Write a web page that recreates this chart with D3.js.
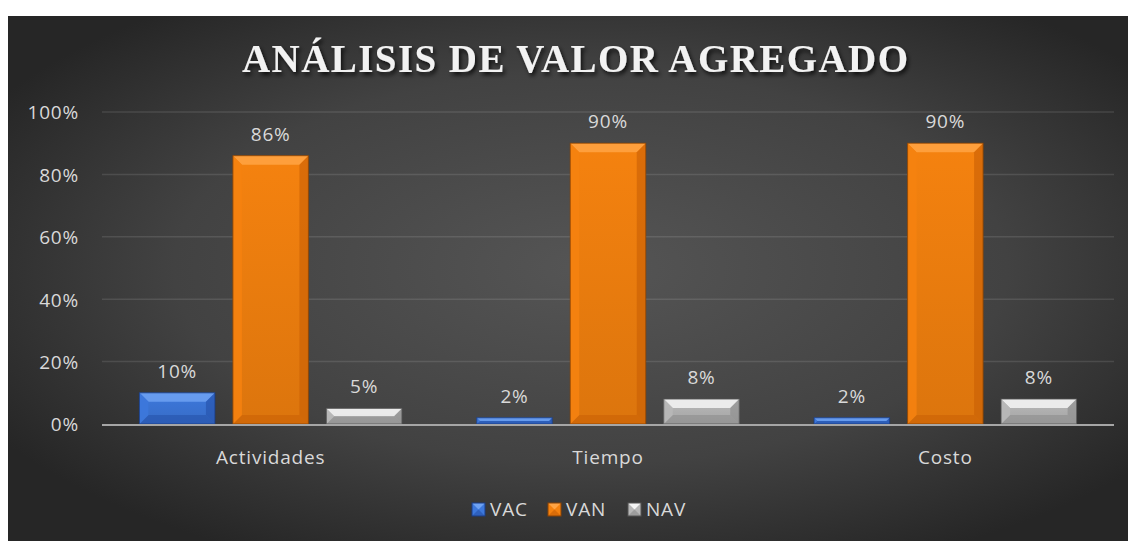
<!DOCTYPE html>
<html><head><meta charset="utf-8">
<script src="https://cdn.jsdelivr.net/npm/d3@7"></script>
<style>html,body{margin:0;padding:0;background:#fff;}svg{display:block;}</style>
</head><body>
<svg id="c" width="1132" height="541"></svg>
<script>
const categories = ["Actividades", "Tiempo", "Costo"];
const seriesNames = ["VAC", "VAN", "NAV"];
const VAC = [10, 2, 2];
const VAN = [86, 90, 90];
const NAV = [5, 8, 8];
const yTicks = [0, 20, 40, 60, 80, 100];
const title = "ANÁLISIS DE VALOR AGREGADO";

(function(){
const seriesValues = [VAC, VAN, NAV];
const palette = [
  {base:"#3d78dc", light:"#6fa2f2", dark:"#2450a8", edge:"#1a3d85"},
  {base:"#f5820f", light:"#ffa444", dark:"#c85f05", edge:"#8a4204"},
  {base:"#b8b8b8", light:"#f4f4f4", dark:"#8a8a8a", edge:"#555555"}
];

const svg = d3.select("#c");
const defs = svg.append("defs");
const bg = defs.append("radialGradient").attr("id","bg").attr("cx","52%").attr("cy","48%").attr("r","62%");
bg.append("stop").attr("offset","0%").attr("stop-color","#555555");
bg.append("stop").attr("offset","60%").attr("stop-color","#424242");
bg.append("stop").attr("offset","100%").attr("stop-color","#262626");
palette.forEach((p,i)=>{
  const g = defs.append("linearGradient").attr("id","bar"+i).attr("x1",0).attr("x2",0).attr("y1",0).attr("y2",1);
  g.append("stop").attr("offset","0%").attr("stop-color",p.base);
  g.append("stop").attr("offset","100%").attr("stop-color",d3.color(p.base).darker(0.3));
});
const sh = defs.append("filter").attr("id","tsh").attr("x","-5%").attr("y","-30%").attr("width","110%").attr("height","160%");
sh.append("feDropShadow").attr("dx",2).attr("dy",3).attr("stdDeviation",2).attr("flood-color","#000").attr("flood-opacity",0.75);

svg.append("rect").attr("x",8).attr("y",16).attr("width",1120).attr("height",525).attr("fill","url(#bg)");

const pLeft = 102, pRight = 1114, pTop = 112, pBottom = 424;
const x = d3.scaleBand().domain(categories).range([pLeft,pRight]);
const y = d3.scaleLinear().domain([0,100]).range([pBottom,pTop]);
const barW = 75.5, step = 93.5;
const xs = d3.scaleLinear().domain([0,2]).range([-step, step]);

svg.append("g").selectAll("line").data(yTicks.filter(t=>t>0)).join("line")
  .attr("x1",pLeft).attr("x2",pRight).attr("y1",d=>y(d)).attr("y2",d=>y(d))
  .attr("stroke","#ffffff").attr("stroke-opacity",0.11).attr("stroke-width",1.5);

const font = "'Open Sans'";
const fs = "19px", ls = "0.8px";
const yAxis = d3.axisLeft(y).tickValues(yTicks).tickFormat(d=>d+"%").tickSize(0).tickPadding(0);
const ya = svg.append("g").attr("transform",`translate(79,0)`).call(yAxis);
ya.select(".domain").remove();
ya.selectAll("text").attr("fill","#d9d9d9").style("font-family",font).style("font-size",fs).style("letter-spacing",ls).attr("dy","0.36em");

categories.forEach((c,ci)=>{
  seriesValues.forEach((vals,si)=>{
    const v = vals[ci];
    const cx = x(c) + x.bandwidth()/2 + xs(si);
    const x0 = cx - barW/2, x1 = cx + barW/2;
    const y0 = y(v), y1 = y(0);
    const h = y1 - y0;
    const b = Math.min(9, h/2);
    const p = palette[si];
    const g = svg.append("g");
    g.append("rect").attr("x",x0).attr("y",y0).attr("width",barW).attr("height",h).attr("fill","url(#bar"+si+")");
    g.append("polygon").attr("points",`${x0},${y0} ${x1},${y0} ${x1-b},${y0+b} ${x0+b},${y0+b}`).attr("fill",p.light).attr("opacity",0.85);
    g.append("polygon").attr("points",`${x0},${y1} ${x1},${y1} ${x1-b},${y1-b} ${x0+b},${y1-b}`).attr("fill",p.dark).attr("opacity",0.55);
    g.append("polygon").attr("points",`${x0},${y0} ${x0+b},${y0+b} ${x0+b},${y1-b} ${x0},${y1}`).attr("fill",p.base).attr("opacity",0.9);
    g.append("polygon").attr("points",`${x1},${y0} ${x1-b},${y0+b} ${x1-b},${y1-b} ${x1},${y1}`).attr("fill",p.dark).attr("opacity",0.6);
    g.append("rect").attr("x",x0).attr("y",y0).attr("width",barW).attr("height",h).attr("fill","none").attr("stroke",p.edge).attr("stroke-width",1).attr("stroke-opacity",0.8);
    svg.append("text").attr("x",cx).attr("y",y0-15).attr("text-anchor","middle")
      .attr("fill","#d9d9d9").style("font-family",font).style("font-size",fs).style("letter-spacing",ls).text(v+"%");
  });
});

svg.append("line").attr("x1",pLeft).attr("x2",pRight).attr("y1",y(0)+1).attr("y2",y(0)+1).attr("stroke","#a6a6a6").attr("stroke-width",2);

const xAxis = d3.axisBottom(x).tickSize(0).tickPadding(0);
const xa = svg.append("g").attr("transform",`translate(0,${y(0)+33})`).call(xAxis);
xa.select(".domain").remove();
xa.selectAll("text").attr("fill","#d9d9d9").style("font-family",font).style("font-size",fs).style("letter-spacing",ls).attr("dy","0.36em");

svg.append("text").attr("x",242).attr("y",72).attr("textLength",666).attr("lengthAdjust","spacing")
  .attr("fill","#f2f2f2").attr("filter","url(#tsh)")
  .style("font-family","'Liberation Serif'").style("font-weight","bold").style("font-size","39px").text(title);

const legX = [472, 548, 628];
const lg = svg.append("g");
seriesNames.forEach((n,i)=>{
  const p = palette[i];
  const sx = legX[i], sy = 503, s = 13;
  lg.append("rect").attr("x",sx).attr("y",sy).attr("width",s).attr("height",s).attr("fill",p.base);
  lg.append("polygon").attr("points",`${sx},${sy} ${sx+s},${sy} ${sx+s/2},${sy+s/2}`).attr("fill",p.light);
  lg.append("polygon").attr("points",`${sx},${sy+s} ${sx+s},${sy+s} ${sx+s/2},${sy+s/2}`).attr("fill",p.dark).attr("opacity",0.6);
  lg.append("rect").attr("x",sx).attr("y",sy).attr("width",s).attr("height",s).attr("fill","none").attr("stroke",p.edge).attr("stroke-width",1);
  lg.append("text").attr("x",sx+s+5).attr("y",sy+s/2).attr("dy","0.36em").attr("fill","#d9d9d9")
    .style("font-family",font).style("font-size",fs).style("letter-spacing",ls).text(n);
});
})();
</script>
</body></html>
